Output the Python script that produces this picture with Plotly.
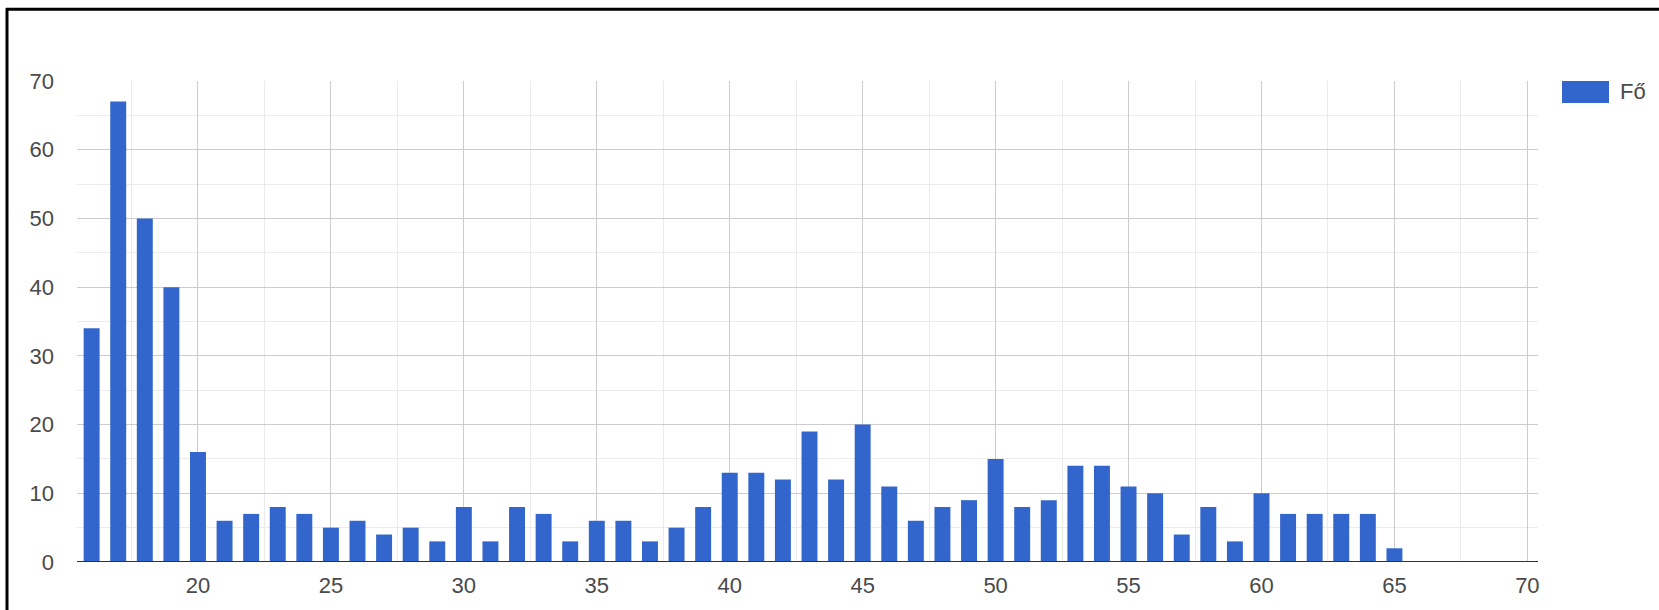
import plotly.graph_objects as go

ages = list(range(16, 71))
counts = [34, 67, 50, 40, 16, 6, 7, 8, 7, 5,
          6, 4, 5, 3, 8, 3, 8, 7, 3, 6,
          6, 3, 5, 8, 13, 13, 12, 19, 12, 20,
          11, 6, 8, 9, 15, 8, 9, 14, 14, 11,
          10, 4, 8, 3, 10, 7, 7, 7, 7, 2,
          0, 0, 0, 0, 0]
series_name = "Fő"
x_ticks = [20, 25, 30, 35, 40, 45, 50, 55, 60, 65, 70]
y_ticks = [0, 10, 20, 30, 40, 50, 60, 70]

W, H = 1659, 610
L, R, T, B = 77, 1538, 81, 564
pw, ph = R - L, B - T

def px(xp):
    return (xp - L) / pw

def py(yp):
    return (B - yp) / ph

fig = go.Figure()
fig.add_trace(go.Bar(x=ages, y=counts, name=series_name, marker_color="#3366cc",
                     marker_line_width=0, width=0.6, showlegend=False))

font_fam = "Liberation Sans, Arial, sans-serif"
fig.update_layout(
    width=W, height=H,
    margin=dict(l=L, r=W - R, t=T, b=H - B),
    paper_bgcolor="white", plot_bgcolor="white",
    font=dict(family=font_fam, size=22, color="#4a4a4a"),
    bargap=0.4,
    xaxis=dict(range=[15.45, 70.4], tickvals=x_ticks, ticks="", showline=False,
               showgrid=True, gridcolor="#cccccc", gridwidth=1, zeroline=False,
               ticklabelstandoff=8,
               minor=dict(tick0=17.5, dtick=5, showgrid=True, gridcolor="#ebebeb", gridwidth=1)),
    yaxis=dict(range=[0, 70], tickvals=y_ticks, ticks="", showline=False,
               showgrid=True, gridcolor="#cccccc", gridwidth=1, zeroline=False,
               ticklabelstandoff=22,
               minor=dict(tick0=5, dtick=10, showgrid=True, gridcolor="#ebebeb", gridwidth=1)),
    shapes=[
        # baseline
        dict(type="line", xref="paper", yref="y", x0=0, x1=1, y0=0, y1=0,
             line=dict(color="#333333", width=2)),
        # frame (top and left)
        dict(type="line", xref="paper", yref="paper", x0=px(6), x1=px(W + 5), y0=py(9), y1=py(9),
             line=dict(color="black", width=3)),
        dict(type="line", xref="paper", yref="paper", x0=px(7), x1=px(7), y0=py(8), y1=py(H + 5),
             line=dict(color="black", width=3)),
        # legend swatch
        dict(type="rect", xref="paper", yref="paper", x0=px(1562), x1=px(1609),
             y0=py(103), y1=py(81), fillcolor="#3366cc", line=dict(width=0)),
    ],
    annotations=[
        dict(text=series_name, xref="paper", yref="paper", x=px(1618), y=py(92),
             xanchor="left", yanchor="middle", showarrow=False,
             font=dict(family=font_fam, size=22, color="#4a4a4a")),
    ],
)

fig.write_html("out.html", config={"displayModeBar": False},
               post_script="document.body.style.margin='0';")
